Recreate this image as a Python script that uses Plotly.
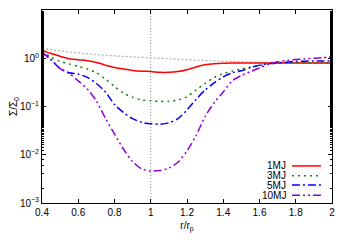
import plotly.graph_objects as go

r = [0.40,0.45,0.50,0.55,0.60,0.65,0.70,0.75,0.80,0.85,0.90,0.95,1.00,1.05,1.10,1.15,1.20,1.25,1.30,1.35,1.40,1.45,1.50,1.55,1.60,1.65,1.70,1.75,1.80,1.85,1.90,1.95,2.00]

sigma_1mj = [1.47,1.25,1.10,0.98,0.93,0.89,0.82,0.72,0.64,0.60,0.56,0.54,0.53,0.51,0.51,0.53,0.58,0.66,0.73,0.77,0.79,0.80,0.80,0.80,0.80,0.80,0.80,0.80,0.80,0.80,0.80,0.80,0.80]
sigma_3mj = [1.40,1.05,0.86,0.76,0.68,0.60,0.50,0.37,0.26,0.19,0.155,0.137,0.131,0.128,0.128,0.136,0.16,0.22,0.30,0.40,0.48,0.54,0.60,0.65,0.70,0.76,0.79,0.80,0.81,0.81,0.81,0.81,0.81]
sigma_5mj = [1.35,0.92,0.62,0.50,0.47,0.40,0.30,0.20,0.11,0.075,0.056,0.047,0.044,0.043,0.046,0.056,0.085,0.14,0.22,0.31,0.41,0.50,0.55,0.64,0.72,0.77,0.80,0.83,0.86,0.87,0.88,0.88,0.88]
sigma_10mj = [1.30,0.95,0.61,0.48,0.34,0.23,0.13,0.057,0.027,0.013,0.0072,0.0051,0.0046,0.0047,0.0053,0.0070,0.012,0.025,0.062,0.12,0.20,0.34,0.44,0.53,0.63,0.75,0.85,0.90,0.94,0.97,1.00,1.03,1.06]

r_init = [0.4,0.6,0.8,1.0,1.2,1.4,1.6,1.8,2.0]
sigma_init = [1.58,1.29,1.12,1.02,0.93,0.87,0.83,0.80,0.78]

labels = ["1MJ","3MJ","5MJ","10MJ"]
series = [sigma_1mj, sigma_3mj, sigma_5mj, sigma_10mj]
colors = ["#ff0000","#1f7a1f","#0000ff","#9400d3"]
dashes = ["solid","2px,4px","8px,3px,2px,3px","8px,3px,2px,3px,2px,3px"]

y_tickvals = [1e-3,1e-2,1e-1,1,10]
y_ticktext = ["10<sup>−3</sup>","10<sup>−2</sup>","10<sup>−1</sup>","10<sup>0</sup>","10<sup>1</sup>"]
x_tickvals = [0.4,0.6,0.8,1.0,1.2,1.4,1.6,1.8,2.0]
x_ticktext = ["0.4","0.6","0.8","1","1.2","1.4","1.6","1.8","2"]

fig = go.Figure()
fig.add_trace(go.Scatter(x=r_init, y=sigma_init, mode="lines", line=dict(color="#b0b0b0", width=1.2, dash="2px,2px", shape="spline"), showlegend=False))
for lab, s, c, d in zip(labels, series, colors, dashes):
    fig.add_trace(go.Scatter(x=r, y=s, mode="lines", name=lab, line=dict(color=c, width=1.5, dash=d, shape="spline", smoothing=0.8), showlegend=False))

# vertical line at r = 1
fig.add_shape(type="line", x0=1, x1=1, xref="x", y0=0, y1=1, yref="paper", line=dict(color="#707070", width=0.8, dash="1px,2px"), layer="below")

# gnuplot-style legend (text left of sample)
leg_y = [0.192, 0.141, 0.093, 0.040]
for lab, c, d, yy in zip(labels, colors, dashes, leg_y):
    fig.add_annotation(x=0.847, y=yy, xref="paper", yref="paper", text=lab, showarrow=False, xanchor="right", yanchor="middle", font=dict(size=10, color="black", family="Liberation Sans, Arial"))
    fig.add_shape(type="line", xref="paper", yref="paper", x0=0.862, x1=0.962, y0=yy, y1=yy, line=dict(color=c, width=1.5, dash=d))

fig.update_layout(
    width=350, height=245,
    margin=dict(l=34, r=26, t=2, b=50),
    paper_bgcolor="white", plot_bgcolor="white",
    font=dict(family="Liberation Sans, Arial", size=10, color="black"),
    showlegend=False,
)
fig.update_xaxes(range=[0.4, 2.0], tickvals=x_tickvals, ticktext=x_ticktext, ticks="inside", ticklen=4, tickcolor="black",
                 showline=True, linecolor="black", linewidth=1, mirror="ticks", showgrid=False, zeroline=False,
                 title=dict(text="r/r<sub>p</sub>", standoff=4, font=dict(size=10)))
fig.update_yaxes(type="log", range=[-3, 1], tickvals=y_tickvals, ticktext=y_ticktext, ticks="inside", ticklen=4, tickcolor="black",
                 showline=True, linecolor="black", linewidth=1, mirror="ticks", showgrid=False, zeroline=False,
                 minor=dict(ticks="inside", ticklen=2, tickcolor="black", showgrid=False),
                 title=dict(text="Σ/Σ<sub>0</sub>", standoff=2, font=dict(size=10)))

fig.write_html("out.html")
